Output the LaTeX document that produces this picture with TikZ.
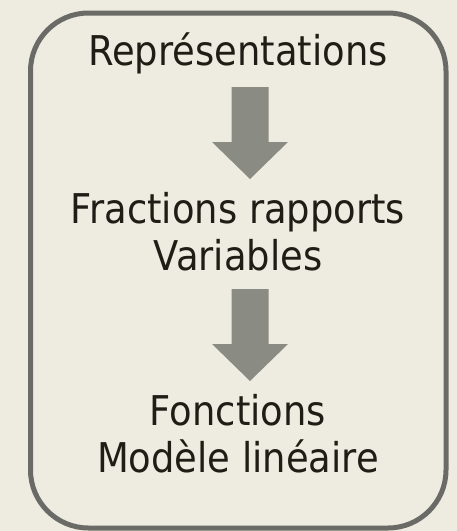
\documentclass[tikz,border=0pt]{standalone}
\usepackage{fontspec}
\setmainfont{DejaVu Sans}[FakeStretch=0.9]
\usetikzlibrary{positioning}
\definecolor{PaperTan}{RGB}{238,236,225}
\definecolor{FrameGray}{RGB}{106,106,102}
\definecolor{ArrowGray}{RGB}{138,139,131}
\definecolor{InkDark}{RGB}{30,30,22}

\tikzset{
  stage text/.style={font=\fontsize{41}{47}\selectfont, text=InkDark, align=center, inner sep=0pt, anchor=base},
  down arrow/.style={fill=ArrowGray},
}

\begin{document}
\begin{tikzpicture}[x=1pt, y=-1pt]
  % page and frame
  \fill[PaperTan] (0,0) rectangle (457,531);
  \useasboundingbox (0,0) rectangle (457,531);
  \draw[FrameGray, line width=5pt, rounded corners=58pt] (30.5,13) rectangle (446,528);

  % the three stages (base = last line)
  \node[stage text] (rep) at (238,65) {Représentations};
  \node[stage text] (frac) at (238,270) {Fractions rapports\\Variables};
  \node[stage text] (fonc) at (238,472) {Fonctions\\Modèle linéaire};

  % block arrows between them
  \coordinate (top1) at (250,87);
  \coordinate (top2) at (250,289);
  \foreach \t in {top1,top2}
    \fill[down arrow, shift={(\t)}] (-18.5,0) -- (18.5,0) -- (18.5,55) -- (38,55) -- (0,92) -- (-38,55) -- (-18.5,55) -- cycle;
\end{tikzpicture}
\end{document}
